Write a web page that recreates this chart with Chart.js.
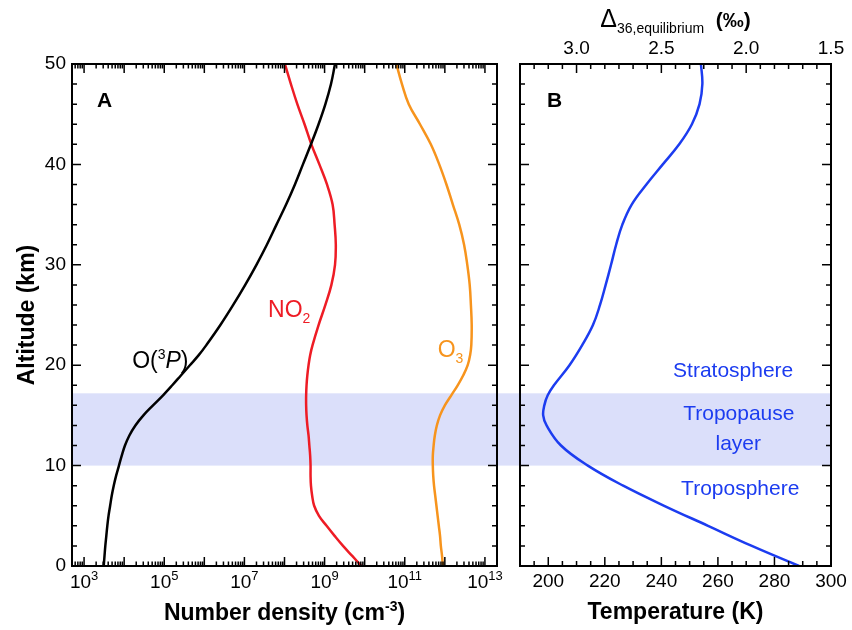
<!DOCTYPE html>
<html>
<head>
<meta charset="utf-8">
<script src="https://cdn.jsdelivr.net/npm/chart.js@4.4.1/dist/chart.umd.min.js"></script>
<style>
  body { margin: 0; background: #fff; }
  #wrap { position: relative; width: 852px; height: 630px; }
  #wrap canvas { position: absolute; left: 0; top: 0; }
</style>
</head>
<body>
<div id="wrap">
  <canvas id="panelA" width="852" height="630"></canvas>
  <canvas id="panelB" width="852" height="630"></canvas>
</div>
<script>
// panel A: altitude (km) and log10 number density (cm-3)
const altitudes = [0, 1, 2, 3, 4, 5, 6, 7, 8, 9, 10, 11, 12, 13, 14, 15, 16, 17, 18, 19, 20, 21, 22, 24, 26, 28, 30, 32, 34, 36, 38, 40, 42, 44, 46, 48, 50];
const o3pLog = [3.49, 3.51, 3.53, 3.555, 3.58, 3.61, 3.65, 3.69, 3.74, 3.8, 3.87, 3.94, 4.02, 4.13, 4.28, 4.48, 4.72, 4.97, 5.2, 5.42, 5.64, 5.86, 6.05, 6.4, 6.72, 7.02, 7.3, 7.56, 7.8, 8.04, 8.26, 8.46, 8.66, 8.85, 9.02, 9.16, 9.26];
const no2Log = [9.92, 9.69, 9.46, 9.25, 9.05, 8.86, 8.74, 8.69, 8.66, 8.65, 8.65, 8.64, 8.62, 8.6, 8.57, 8.55, 8.54, 8.54, 8.55, 8.57, 8.6, 8.64, 8.7, 8.85, 9.02, 9.17, 9.26, 9.28, 9.25, 9.2, 9.06, 8.87, 8.67, 8.5, 8.32, 8.16, 8.01];
const o3Log = [11.95, 11.93, 11.9, 11.88, 11.85, 11.82, 11.79, 11.76, 11.73, 11.71, 11.7, 11.7, 11.72, 11.75, 11.8, 11.88, 12.0, 12.16, 12.32, 12.46, 12.57, 12.63, 12.66, 12.67, 12.65, 12.62, 12.56, 12.48, 12.36, 12.2, 12.04, 11.86, 11.65, 11.38, 11.1, 10.93, 10.79];

// panel B: temperature profile (K)
const tempAltitudes = [0, 2, 4, 6, 8, 10, 12, 14, 15, 16, 17, 18, 20, 22, 24, 26, 28, 30, 32, 34, 36, 38, 40, 42, 44, 46, 48, 50];
const temperatures = [288.7, 272, 256.5, 241, 226.5, 214, 204.5, 199.4, 198.2, 198.6, 199.8, 202, 207.5, 212, 215.8, 218.3, 220.3, 222.2, 224, 226.2, 229.5, 234.7, 240.5, 246.3, 250.8, 253.5, 254.5, 254];

// axes
const densityTicks = [1e3, 1e5, 1e7, 1e9, 1e11, 1e13];
const tempTicks = [200, 220, 240, 260, 280, 300];
const deltaTicks = [3.0, 2.5, 2.0, 1.5];
const tropopauseLayer = [10, 17.2];

const FONT = '"Liberation Sans", Arial, Helvetica, sans-serif';
const BAND = 'rgb(219,223,250)';
const BLUE = '#1c3cf0';
Chart.defaults.font.family = FONT;
Chart.defaults.color = '#000';

function toPoints(xs, ys, f) {
    return ys.map((y, i) => ({ x: f ? f(xs[i]) : xs[i], y: y }));
}
const pow10 = e => Math.pow(10, e);

// draws text made of parts (for sub/superscripts and italics)
function richText(ctx, parts, x, y, align, color) {
    let w = 0;
    const fonts = parts.map(p => {
        const f = (p.italic ? 'italic ' : '') + (p.bold ? 'bold ' : '') + p.size + 'px ' + FONT;
        ctx.font = f;
        const pw = ctx.measureText(p.t).width;
        w += pw;
        return [f, pw];
    });
    let cx = align === 'center' ? x - w / 2 : (align === 'right' ? x - w : x);
    ctx.fillStyle = color;
    ctx.textAlign = 'left';
    ctx.textBaseline = 'alphabetic';
    parts.forEach((p, i) => {
        ctx.font = fonts[i][0];
        ctx.fillText(p.t, cx, y + (p.dy || 0));
        cx += fonts[i][1];
    });
}

function band(chart, extra) {
    const { ctx, chartArea: a, scales: { y } } = chart;
    const top = y.getPixelForValue(tropopauseLayer[1]);
    const bot = y.getPixelForValue(tropopauseLayer[0]);
    ctx.save();
    ctx.fillStyle = BAND;
    ctx.fillRect(a.left, top, a.right - a.left + extra, bot - top);
    ctx.restore();
}

function altitudeTicks(ctx, a, y) {
    for (let alt = 0; alt <= 50; alt += 2) {
        const py = y.getPixelForValue(alt);
        const len = alt % 10 === 0 ? 9 : 5;
        ctx.moveTo(a.left, py); ctx.lineTo(a.left + len, py);
        ctx.moveTo(a.right, py); ctx.lineTo(a.right - len, py);
    }
}

const decoA = {
    id: 'decoA',
    beforeDatasetsDraw(chart) { band(chart, 23); },
    afterDatasetsDraw(chart) {
        const { ctx, chartArea: a, scales: { x, y } } = chart;
        ctx.save();
        ctx.strokeStyle = '#000';
        ctx.lineWidth = 1.5;
        ctx.beginPath();
        altitudeTicks(ctx, a, y);
        for (let d = 2; d <= 13; d++) {
            for (let m = 1; m <= 9; m++) {
                const v = m * Math.pow(10, d);
                if (v < x.min || v > x.max) continue;
                const px = x.getPixelForValue(v);
                const len = m === 1 ? 9 : 4.5;
                ctx.moveTo(px, a.bottom); ctx.lineTo(px, a.bottom - len);
                ctx.moveTo(px, a.top); ctx.lineTo(px, a.top + len);
            }
        }
        ctx.stroke();
        ctx.lineWidth = 2;
        ctx.strokeRect(a.left, a.top, a.right - a.left, a.bottom - a.top);

        densityTicks.forEach(v => {
            const e = Math.round(Math.log10(v));
            richText(ctx, [{ t: '10', size: 19 }, { t: String(e), size: 13, dy: -8 }],
                x.getPixelForValue(v), a.bottom + 22, 'center', '#000');
        });
        richText(ctx, [
            { t: 'Number density (cm', size: 23, bold: true },
            { t: '-3', size: 14, bold: true, dy: -9 },
            { t: ')', size: 23, bold: true }
        ], (a.left + a.right) / 2, 620, 'center', '#000');

        richText(ctx, [{ t: 'A', size: 21, bold: true }], a.left + 25, a.top + 43, 'left', '#000');
        richText(ctx, [
            { t: 'O(', size: 23 }, { t: '3', size: 14, dy: -9 },
            { t: 'P', size: 23, italic: true }, { t: ')', size: 23 }
        ], x.getPixelForValue(pow10(4.2)), y.getPixelForValue(19.7), 'left', '#000');
        richText(ctx, [{ t: 'NO', size: 23 }, { t: '2', size: 14, dy: 6 }],
            x.getPixelForValue(pow10(7.59)), y.getPixelForValue(24.8), 'left', '#ee1c25');
        richText(ctx, [{ t: 'O', size: 23 }, { t: '3', size: 14, dy: 6 }],
            x.getPixelForValue(pow10(11.82)), y.getPixelForValue(20.8), 'left', '#f7941d');
        ctx.restore();
    }
};

const decoB = {
    id: 'decoB',
    beforeDatasetsDraw(chart) { band(chart, 0); },
    afterDatasetsDraw(chart) {
        const { ctx, chartArea: a, scales: { x, xTop, y } } = chart;
        ctx.save();
        ctx.strokeStyle = '#000';
        ctx.lineWidth = 1.5;
        ctx.beginPath();
        altitudeTicks(ctx, a, y);
        for (let t = 190; t <= 300; t += 5) {
            const px = x.getPixelForValue(t);
            const len = t % 20 === 0 ? 9 : 5;
            ctx.moveTo(px, a.bottom); ctx.lineTo(px, a.bottom - len);
        }
        for (let k = 0; k <= 22; k++) {
            const d = 1.5 + k / 12;
            const px = xTop.getPixelForValue(d);
            const len = k % 6 === 0 ? 9 : 5;
            ctx.moveTo(px, a.top); ctx.lineTo(px, a.top + len);
        }
        ctx.stroke();
        ctx.lineWidth = 2;
        ctx.strokeRect(a.left, a.top, a.right - a.left, a.bottom - a.top);

        richText(ctx, [
            { t: '\u0394', size: 25 },
            { t: '36,equilibrium', size: 14, dy: 6 },
            { t: '  (\u2030)', size: 21, bold: true }
        ], (a.left + a.right) / 2, 27, 'center', '#000');

        richText(ctx, [{ t: 'B', size: 21, bold: true }], a.left + 27, a.top + 43, 'left', '#000');
        richText(ctx, [{ t: 'Stratosphere', size: 21 }], x.getPixelForValue(265.4), y.getPixelForValue(18.8), 'center', BLUE);
        richText(ctx, [{ t: 'Tropopause', size: 21 }], x.getPixelForValue(267.4), y.getPixelForValue(14.5), 'center', BLUE);
        richText(ctx, [{ t: 'layer', size: 21 }], x.getPixelForValue(267.2), y.getPixelForValue(11.55), 'center', BLUE);
        richText(ctx, [{ t: 'Troposphere', size: 21 }], x.getPixelForValue(267.9), y.getPixelForValue(7.1), 'center', BLUE);
        ctx.restore();
    }
};

function curve(label, data, color) {
    return { label: label, data: data, borderColor: color, borderWidth: 2.5, pointRadius: 0,
             showLine: true, tension: 0.4, fill: false };
}

const noGrid = { display: false, drawTicks: false };

const chartA = new Chart(document.getElementById('panelA'), {
    type: 'scatter',
    data: {
        datasets: [
            curve('O(3P)', toPoints(o3pLog, altitudes, pow10), '#000000'),
            curve('NO2', toPoints(no2Log, altitudes, pow10), '#ee1c25'),
            curve('O3', toPoints(o3Log, altitudes, pow10), '#f7941d')
        ]
    },
    options: {
        responsive: false,
        animation: false,
        devicePixelRatio: 1,
        layout: { padding: { left: 0, top: 64, right: 355, bottom: 0 } },
        plugins: { legend: { display: false }, tooltip: { enabled: false } },
        scales: {
            x: {
                type: 'logarithmic',
                min: 500,
                max: 2e13,
                grid: noGrid,
                border: { display: false },
                ticks: { display: false },
                afterFit: s => { s.height = 64; }
            },
            y: {
                type: 'linear',
                min: 0,
                max: 50,
                grid: noGrid,
                border: { display: false },
                ticks: { stepSize: 10, padding: 6, font: { size: 19 } },
                title: { display: true, text: 'Altitude (km)', font: { size: 23, weight: 'bold' },
                         padding: { top: 14, bottom: 0 } },
                afterFit: s => { s.width = 72; }
            }
        }
    },
    plugins: [decoA]
});

const chartB = new Chart(document.getElementById('panelB'), {
    type: 'scatter',
    data: {
        datasets: [curve('Temperature', toPoints(temperatures, tempAltitudes), BLUE)]
    },
    options: {
        responsive: false,
        animation: false,
        devicePixelRatio: 1,
        layout: { padding: { left: 520, top: 0, right: 21, bottom: 0 } },
        plugins: { legend: { display: false }, tooltip: { enabled: false } },
        scales: {
            x: {
                type: 'linear',
                position: 'bottom',
                min: 190,
                max: 300,
                grid: noGrid,
                border: { display: false },
                ticks: { padding: 4, font: { size: 19 } },
                afterBuildTicks: s => { s.ticks = tempTicks.map(v => ({ value: v })); },
                title: { display: true, text: 'Temperature (K)', font: { size: 23, weight: 'bold' },
                         padding: { top: 0, bottom: 4 } },
                afterFit: s => { s.height = 64; }
            },
            xTop: {
                type: 'linear',
                position: 'top',
                reverse: true,
                min: 1.5,
                max: 3 + 1 / 3,
                grid: noGrid,
                border: { display: false },
                ticks: { padding: 4, font: { size: 19 }, callback: v => Number(v).toFixed(1) },
                afterBuildTicks: s => { s.ticks = deltaTicks.map(v => ({ value: v })); },
                afterFit: s => { s.height = 64; }
            },
            y: {
                type: 'linear',
                display: false,
                min: 0,
                max: 50
            }
        }
    },
    plugins: [decoB]
});
</script>
</body>
</html>
